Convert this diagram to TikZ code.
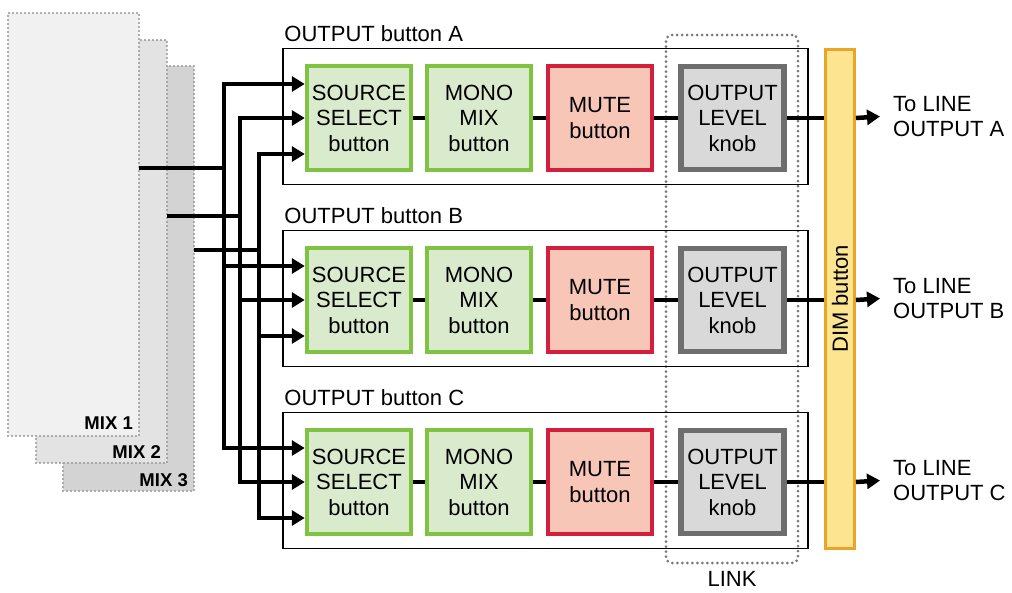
\documentclass[tikz,border=0pt]{standalone}
\usepackage{fontspec}
\setmainfont{Liberation Sans}
\usetikzlibrary{arrows.meta,calc}
\definecolor{grn}{RGB}{128,194,66}
\definecolor{grnfill}{RGB}{218,234,205}
\definecolor{mred}{RGB}{212,30,62}
\definecolor{mredfill}{RGB}{247,198,182}
\definecolor{lvl}{RGB}{110,110,110}
\definecolor{lvlfill}{RGB}{217,217,217}
\definecolor{dimfill}{RGB}{253,228,145}
\definecolor{dimdraw}{RGB}{234,165,40}
\definecolor{mixline}{RGB}{150,150,150}
\definecolor{mixa}{RGB}{241,241,241}
\definecolor{mixb}{RGB}{227,227,227}
\definecolor{mixc}{RGB}{211,211,211}
\definecolor{linkline}{RGB}{120,120,120}
\begin{document}
\begin{tikzpicture}[x=1pt,y=-1pt,
  wire/.style={line width=4.5pt,draw=black},
  tip/.tip={Triangle[length=13pt,width=15pt]},
  arr/.style={wire,-tip},
  txt/.style={font=\fontsize{22}{25.5}\selectfont,text=black},
  box/.style={txt,minimum width=104pt,minimum height=104pt,line width=4.5pt,align=center,inner sep=0pt},
  srcbox/.style={box,draw=grn,fill=grnfill},
  mutebox/.style={box,draw=mred,fill=mredfill},
  lvlbox/.style={box,draw=lvl,fill=lvlfill,line width=5.5pt,minimum width=103pt,minimum height=103pt},
  framebox/.style={draw=black,line width=1.5pt,minimum width=525pt,minimum height=136pt,inner sep=0pt},
  mixbox/.style={draw=mixline,line width=2.2pt,dash pattern=on 0pt off 4pt,line cap=round,inner sep=0pt,minimum width=131pt,minimum height=423pt},
  mixlbl/.style={font=\fontsize{18.5}{20}\selectfont\bfseries,inner sep=0pt,anchor=east},
  outlbl/.style={txt,anchor=west,align=left,inner xsep=13pt,inner ysep=0pt}]
\useasboundingbox (0,0) rectangle (1012,592);

% MIX panels
\node[mixbox,fill=mixc,minimum height=425pt] (mix3) at (128.5,278.5) {};
\node[mixbox,fill=mixb] (mix2) at (101.5,251.5) {};
\node[mixbox,fill=mixa] (mix1) at (73.5,224.5) {};
\node[mixlbl] (lab1) at (133,423) {MIX 1};
\node[mixlbl] (lab2) at (161,452) {MIX 2};
\node[mixlbl] (lab3) at (188,480) {MIX 3};

% DIM bar and LINK
\node[draw=dimdraw,fill=dimfill,line width=3pt,minimum width=29pt,minimum height=499pt,inner sep=0pt] (dim) at (840,299) {};
\node[txt,rotate=90] (dimlbl) at (dim.center) {DIM button};
\node[draw=linkline,line width=3pt,dash pattern=on 0pt off 5pt,line cap=round,rounded corners=6pt,minimum width=132pt,minimum height=528pt,inner sep=0pt] (link) at (732,299) {};
\node[txt,inner sep=0pt] (linklbl) at (732,579) {LINK};

\coordinate (bus1) at (224,0);
\coordinate (bus2) at (240,0);
\coordinate (bus3) at (259,0);

\foreach \r/\yc in {A/118,B/300,C/482} {
  \node[framebox] (frame\r) at (545.5,\yc-1.5) {};
  \node[txt,anchor=base west,inner sep=0pt] (lbl\r) at ($(frame\r.north west)+(2,-6)$) {OUTPUT button \r};
  \node[srcbox] (src\r) at (359,\yc) {SOURCE\\SELECT\\button};
  \node[srcbox] (mono\r) at (479,\yc) {MONO\\MIX\\button};
  \node[mutebox] (mute\r) at (600,\yc) {MUTE\\button};
  \node[lvlbox] (level\r) at (732.5,\yc) {OUTPUT\\LEVEL\\knob};
  \node[outlbl] (out\r) at (880,\yc-1.5) {To LINE\\OUTPUT \r};
  \coordinate (in\r1) at ($(src\r.west)+(0,-34)$);
  \coordinate (in\r2) at ($(src\r.west)+(0,0)$);
  \coordinate (in\r3) at ($(src\r.west)+(0,36)$);
  \draw[wire] (src\r) -- (mono\r);
  \draw[wire] (mono\r) -- (mute\r);
  \draw[wire] (mute\r) -- (level\r);
  \draw[wire] (level\r) -- (level\r -| dim.west);
  \draw[arr] (level\r -| dim.east) -- (out\r.west);
}

% MIX outputs and buses
\coordinate (m1) at (139,168);
\coordinate (m2) at (167,216);
\coordinate (m3) at (194,250);
\foreach \i in {1,2,3} {
  \draw[wire] (m\i) -- (m\i -| bus\i);
  \draw[wire,tip-tip] (inA\i) -- (inA\i -| bus\i) -- (inC\i -| bus\i) -- (inC\i);
  \draw[arr] (inB\i -| bus\i) -- (inB\i);
}
\end{tikzpicture}
\end{document}
